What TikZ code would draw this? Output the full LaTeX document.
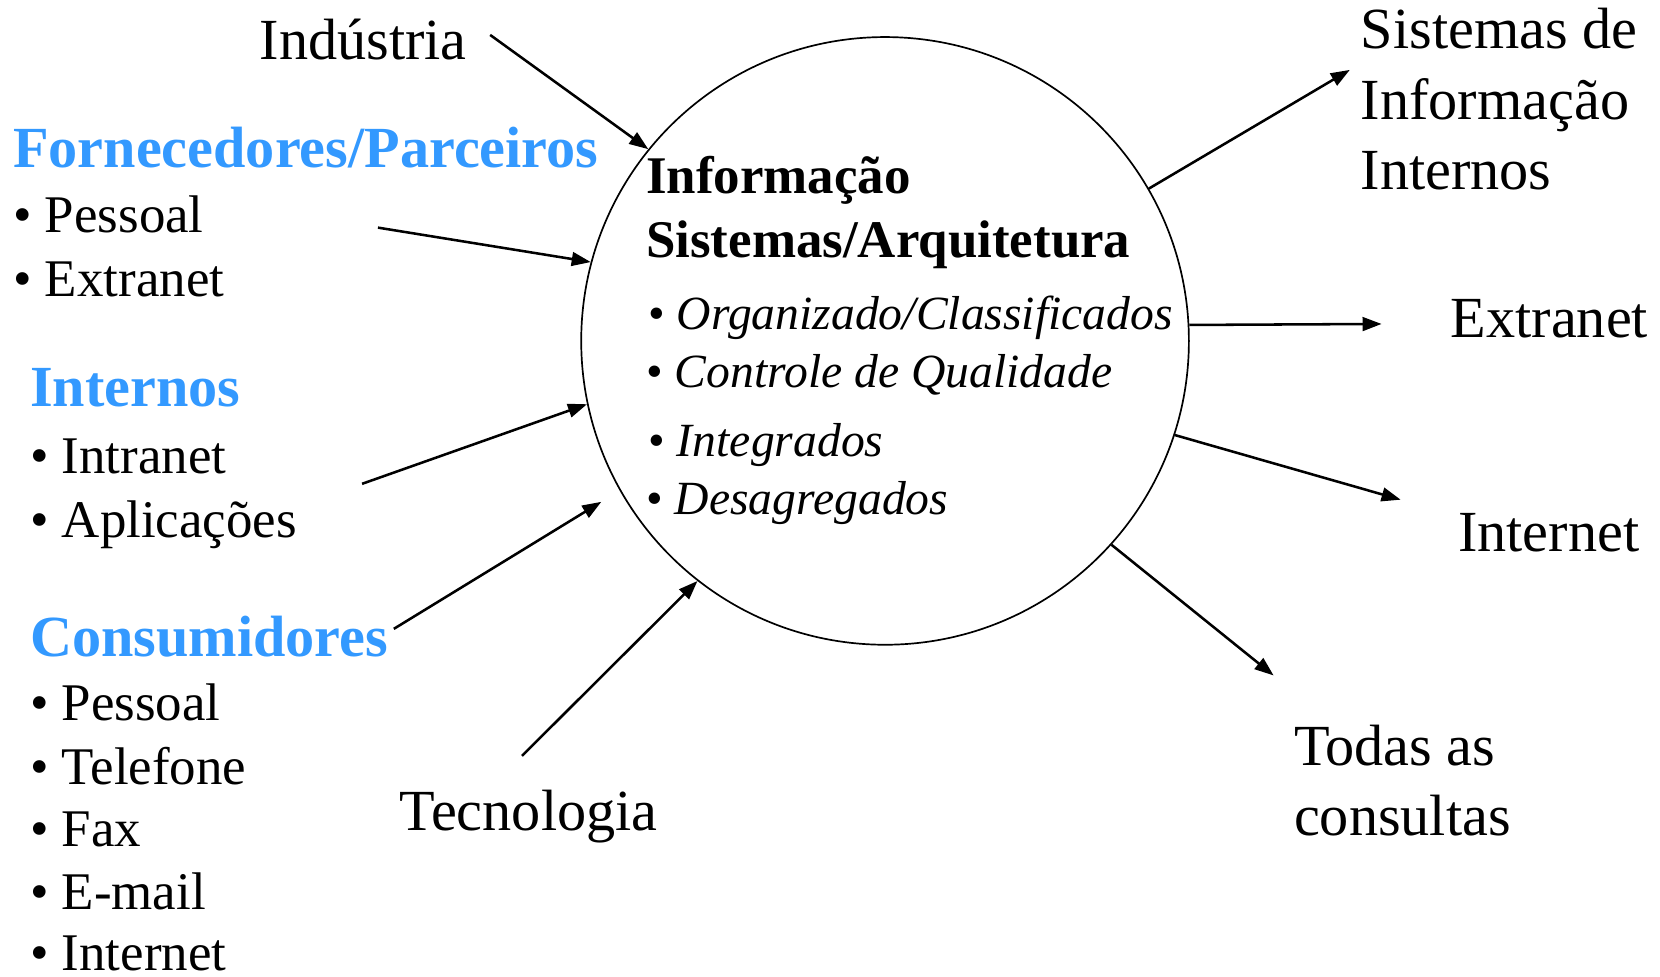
\documentclass[tikz,border=0pt]{standalone}
\usepackage{fontspec}
\setmainfont{Liberation Serif}
\usepackage{xcolor}
\usepackage{tikz}
\usetikzlibrary{arrows.meta}
\definecolor{azul}{HTML}{3399FF}

\begin{document}
\begin{tikzpicture}[x=0.5pt,y=-0.5pt,
		rotulo/.style={anchor=base west,inner sep=0pt,font=\fontsize{27.5}{33}\selectfont},
		lista/.style={anchor=base west,inner sep=0pt,font=\fontsize{25}{30}\selectfont},
		titulo/.style={anchor=base west,inner sep=0pt,text=azul,font=\fontsize{27.5}{33}\selectfont\bfseries},
		centro/.style={anchor=base west,inner sep=0pt,font=\fontsize{25}{30}\selectfont\bfseries},
		item/.style={anchor=base west,inner sep=0pt,font=\fontsize{22.5}{27}\selectfont},
		seta/.style={-{Triangle[length=9pt,width=6.5pt]},line width=1.2pt}]
			
			\useasboundingbox (0,0) rectangle (1568,922);
			
			\node[draw,circle,line width=0.8pt,minimum size=287pt,inner sep=0pt] (info) at (836,322) {};
			
			\node[centro] (info1) at (610,183) {Informação};
			\node[centro] (info2) at (610,243) {Sistemas/Arquitetura};
			\node[item] (org) at (612,311) {• \textit{Organizado/Classificados}};
			\node[item] (qual) at (610,366) {• \textit{Controle de Qualidade}};
			\node[item] (integ) at (612,431) {• \textit{Integrados}};
			\node[item] (desag) at (610,486) {• \textit{Desagregados}};
			
			\node[rotulo] (ind) at (245,56) {Indústria};
			\node[rotulo] (tec) at (377,784) {Tecnologia};
			
			\node[titulo] (forn) at (12,158) {Fornecedores/Parceiros};
			\node[lista] (forn1) at (12,220) {• Pessoal};
			\node[lista] (forn2) at (12,280) {• Extranet};
			
			\node[titulo] (inter) at (28,384) {Internos};
			\node[lista] (inter1) at (28,447) {• Intranet};
			\node[lista] (inter2) at (28,508) {• Aplicações};
			
			\node[titulo] (cons) at (28,620) {Consumidores};
			\foreach \t/\y [count=\i] in {Pessoal/681,Telefone/741,Fax/800,E-mail/859,Internet/917} {
				\node[lista] (cons\i) at (28,\y) {• \t};
			}
			
			\node[rotulo] (sis1) at (1285,46) {Sistemas de};
			\node[rotulo] (sis2) at (1285,113) {Informação};
			\node[rotulo] (sis3) at (1285,179) {Internos};
			\node[rotulo] (extra) at (1370,319) {Extranet};
			\node[rotulo] (inet) at (1377,521) {Internet};
			\node[rotulo] (todas1) at (1222,723) {Todas as};
			\node[rotulo] (todas2) at (1222,789) {consultas};
			
			\coordinate (indfim) at (463,33);
			\coordinate (fornfim) at (357,215);
			\coordinate (interfim) at (342,457);
			\coordinate (consfim) at (372,594);
			\coordinate (consalvo) at (568,474);
			\coordinate (tecfim) at (493,714);
			\coordinate (sisalvo) at (1275,66);
			\coordinate (extraalvo) at (1305,306);
			\coordinate (inetalvo) at (1323,472);
			\coordinate (todasalvo) at (1203,638);
			
			\draw[seta] (indfim) -- (info.141);
			\draw[seta] (fornfim) -- (info.165);
			\draw[seta] (interfim) -- (info.192);
			\draw[seta] (consfim) -- (consalvo);
			\draw[seta] (tecfim) -- (info.232);
			
			\draw[seta] (info.30.5) -- (sisalvo);
			\draw[seta] (info.3.2) -- (extraalvo);
			\draw[seta] (info.-18.2) -- (inetalvo);
			\draw[seta] (info.-42) -- (todasalvo);
		\end{tikzpicture}
\end{document}
